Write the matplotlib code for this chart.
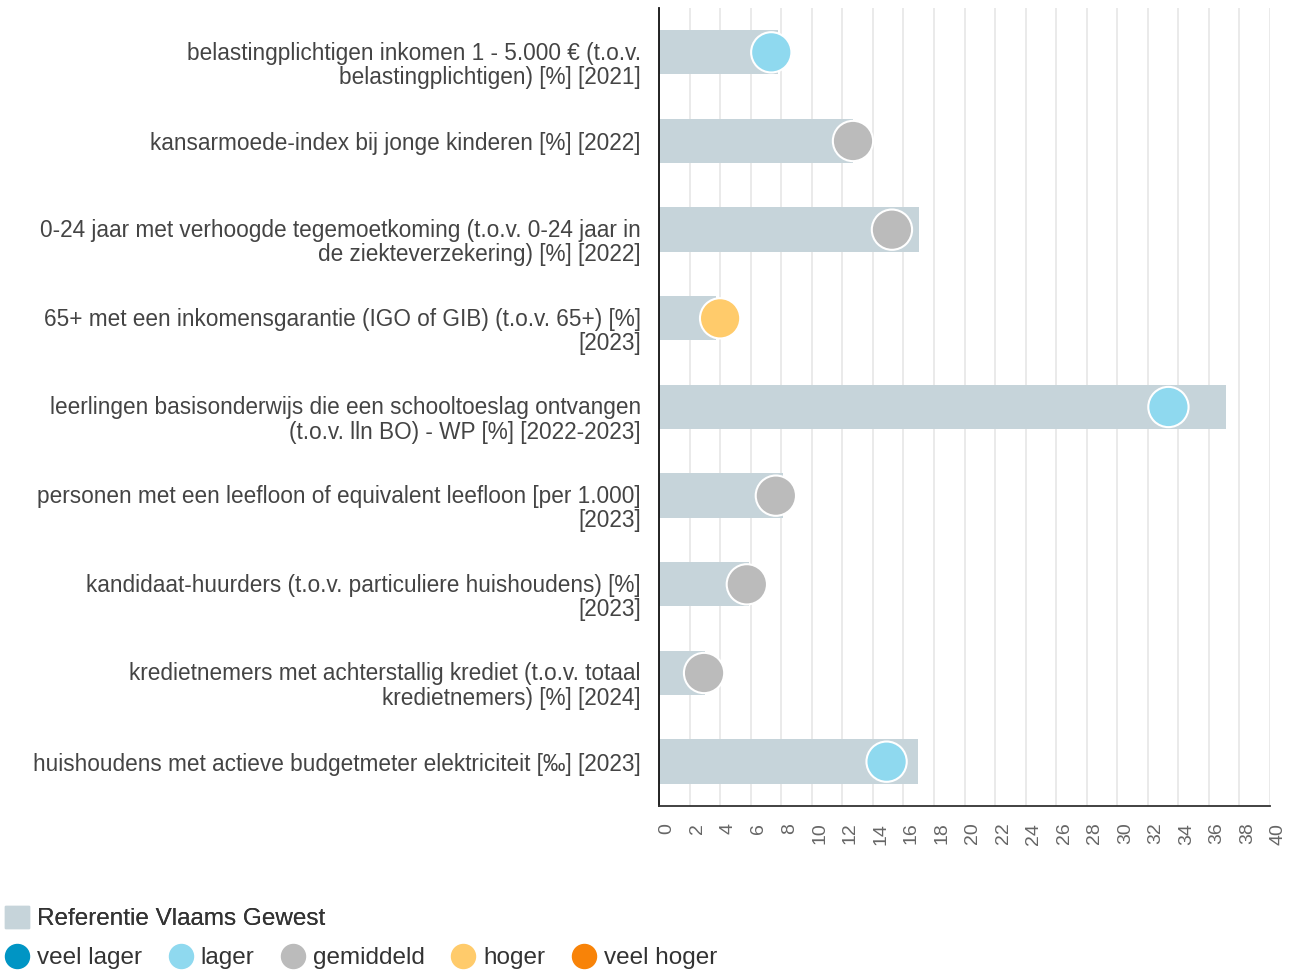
import matplotlib
matplotlib.use("Agg")
import matplotlib.pyplot as plt
from matplotlib.patches import Patch
from matplotlib.lines import Line2D
from matplotlib.transforms import ScaledTranslation

plt.rcParams["font.family"] = ["Liberation Sans", "DejaVu Sans"]

# indicatoren (labels al afgebroken zoals in de bron)
categories = [
    "belastingplichtigen inkomen 1 - 5.000 € (t.o.v.\nbelastingplichtigen) [%] [2021]",
    "kansarmoede-index bij jonge kinderen [%] [2022]",
    "0-24 jaar met verhoogde tegemoetkoming (t.o.v. 0-24 jaar in\nde ziekteverzekering) [%] [2022]",
    "65+ met een inkomensgarantie (IGO of GIB) (t.o.v. 65+) [%]\n[2023]",
    "leerlingen basisonderwijs die een schooltoeslag ontvangen\n(t.o.v. lln BO) - WP [%] [2022-2023]",
    "personen met een leefloon of equivalent leefloon [per 1.000]\n[2023]",
    "kandidaat-huurders (t.o.v. particuliere huishoudens) [%]\n[2023]",
    "kredietnemers met achterstallig krediet (t.o.v. totaal\nkredietnemers) [%] [2024]",
    "huishoudens met actieve budgetmeter elektriciteit [‰] [2023]",
]
referentie = [7.8, 12.7, 17.0, 3.7, 37.1, 8.1, 5.9, 3.0, 16.95]
gemeente = [7.35, 12.7, 15.25, 4.0, 33.35, 7.65, 5.75, 2.95, 14.9]
klasse = ["lager", "gemiddeld", "gemiddeld", "hoger", "lager",
          "gemiddeld", "gemiddeld", "gemiddeld", "lager"]

KLEUREN = {
    "veel lager": "#0095c4",
    "lager": "#8fd9ef",
    "gemiddeld": "#bbbbbb",
    "hoger": "#ffcb6b",
    "veel hoger": "#f88308",
}
REF_KLEUR = "#c6d4da"

fig = plt.figure(figsize=(12.94, 9.71), dpi=100, facecolor="white")
ax = fig.add_axes([659 / 1294, 1 - 806 / 971, (1270 - 659) / 1294, (806 - 8) / 971])

y = list(range(len(categories)))
ax.barh(y, referentie, height=0.5, color=REF_KLEUR, zorder=2)
ax.scatter(gemeente, y, s=29 ** 2, c=[KLEUREN[k] for k in klasse],
           edgecolors="white", linewidths=1.5, zorder=3)

ax.set_ylim(len(categories) - 0.5, -0.5)
ax.set_xlim(0, 40)
ax.set_xticks(range(0, 41, 2))
ax.set_yticks(y)
ax.set_yticklabels(categories, fontsize=16.3, color="#444444", linespacing=1.06)
ax.tick_params(axis="y", length=0, pad=13)
ax.tick_params(axis="x", length=0, pad=12, labelsize=14, labelcolor="#666666",
               labelrotation=90)
for lbl in ax.get_xticklabels():
    lbl.set_transform(lbl.get_transform() + ScaledTranslation(8 / 100, 0, fig.dpi_scale_trans))
# eerste regel van een afgebroken label staat op hoogte van de balk
for lbl in ax.get_yticklabels():
    if "\n" in lbl.get_text():
        lbl.set_transform(lbl.get_transform() + ScaledTranslation(0, -10 / 100, fig.dpi_scale_trans))

ax.grid(axis="x", color="#e6e6e6", linewidth=1.2, zorder=0)
ax.set_axisbelow(True)
for s in ["top", "right"]:
    ax.spines[s].set_visible(False)
ax.spines["left"].set_color("#111111")
ax.spines["left"].set_linewidth(1.3)
ax.spines["bottom"].set_color("#333333")
ax.spines["bottom"].set_linewidth(1.3)

# legenda
leg1 = fig.legend(handles=[Patch(color=REF_KLEUR, label="Referentie Vlaams Gewest")],
                  loc="center left", bbox_to_anchor=(0.0, 1 - 918 / 971), frameon=False,
                  fontsize=17.5, labelcolor="#333333", handlelength=1.0, handleheight=1.0,
                  handletextpad=0.33, borderaxespad=0, borderpad=0.2)
fig.add_artist(leg1)
cirkels = [Line2D([], [], marker="o", linestyle="none", markersize=17.3,
                  markerfacecolor=c, markeredgecolor=c, label=k)
           for k, c in KLEUREN.items()]
fig.legend(handles=cirkels, loc="center left", bbox_to_anchor=(0.0, 1 - 958 / 971),
           ncol=5, frameon=False, fontsize=17.5, labelcolor="#333333",
           handlelength=1.0, handletextpad=0.33, columnspacing=1.08,
           borderaxespad=0, borderpad=0.2)

fig.savefig("out.png", dpi=100, facecolor="white")
